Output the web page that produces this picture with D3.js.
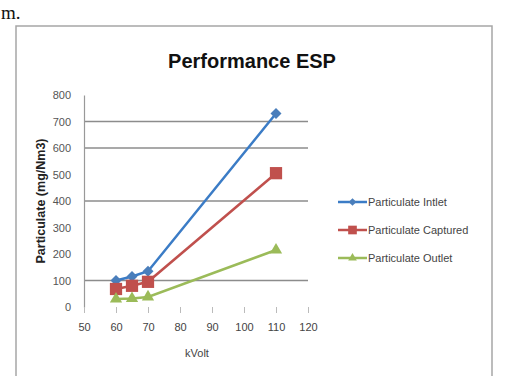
<!DOCTYPE html>
<html lang="en">
<head>
<meta charset="UTF-8">
<title>Performance ESP</title>
<style>
    body { margin: 0; background: #fff; }
    svg { display: block; }
</style>
</head>
<body>
<svg width="506" height="376"></svg>
<script src="https://d3js.org/d3.v7.min.js"></script>
<script>
// data
const kvolt = [60, 65, 70, 110];
const inlet = [100, 115, 135, 730];
const captured = [68, 80, 95, 505];
const outlet = [30, 32, 38, 215];
const seriesNames = ["Particulate Intlet", "Particulate Captured", "Particulate Outlet"];
const xTicks = [50, 60, 70, 80, 90, 100, 110, 120];
const yTicks = [0, 100, 200, 300, 400, 500, 600, 700, 800];
const gridVals = [100, 400, 600, 700]; // only these survive in the scan

const svg = d3.select("svg");
const font = "'Liberation Sans Narrow', 'Liberation Sans', sans-serif";

// stray caption text from the page above
svg.append("text").attr("x", 1).attr("y", 19)
    .attr("font-family", "'Liberation Serif', serif").attr("font-size", 19)
    .attr("fill", "#111").text("m.");

// chart frame
svg.append("rect").attr("x", 16).attr("y", 26).attr("width", 476).attr("height", 370)
    .attr("fill", "none").attr("stroke", "#a6a6a6").attr("stroke-width", 1.5);

const x = d3.scaleLinear().domain([50, 120]).range([84, 308]);
const y = d3.scaleLinear().domain([0, 800]).range([307, 95]);

svg.append("text").attr("x", 252).attr("y", 68).attr("text-anchor", "middle")
    .attr("font-family", font).attr("font-weight", "bold").attr("font-size", 20)
    .attr("fill", "#111").text("Performance ESP");

// gridlines
svg.append("g").selectAll("line").data(gridVals).enter().append("line")
    .attr("x1", x(50)).attr("x2", x(120))
    .attr("y1", d => y(d)).attr("y2", d => y(d))
    .attr("stroke", "#8c8c8c").attr("stroke-width", 1.4);

// y axis
const yAxis = svg.append("g").attr("transform", `translate(${x(50)},0)`)
    .call(d3.axisLeft(y).tickValues(yTicks).tickSize(0).tickPadding(13));
yAxis.select(".domain").attr("stroke", "#999").attr("stroke-width", 1.2);
yAxis.selectAll("text").attr("font-family", font).attr("font-size", 11).attr("fill", "#555");

// x axis
const xAxis = svg.append("g").attr("transform", `translate(0,${y(0)})`)
    .call(d3.axisBottom(x).tickValues(xTicks).tickSize(6).tickPadding(10));
xAxis.select(".domain").remove();
xAxis.selectAll("line").attr("stroke", "#bbb");
xAxis.selectAll("text").attr("font-family", font).attr("font-size", 11).attr("fill", "#444");

svg.append("text").attr("x", 197).attr("y", 357).attr("text-anchor", "middle")
    .attr("font-family", font).attr("font-size", 11).attr("fill", "#444").text("kVolt");

svg.append("text").attr("transform", "translate(45,201) rotate(-90)")
    .attr("text-anchor", "middle").attr("font-family", font).attr("font-weight", "bold")
    .attr("font-size", 12.5).attr("fill", "#222").text("Particulate (mg/Nm3)");

const series = [
    { name: seriesNames[0], vals: inlet, line: "#3b7cc6", fill: "#4a7ebb", sym: d3.symbolSquare, size: 60, rot: 45 },
    { name: seriesNames[1], vals: captured, line: "#c0504d", fill: "#c0504d", sym: d3.symbolSquare, size: 150, rot: 0 },
    { name: seriesNames[2], vals: outlet, line: "#9bbb59", fill: "#9bbb59", sym: d3.symbolTriangle, size: 65, rot: 0 }
];

const line = d3.line().x(d => x(d[0])).y(d => y(d[1]));

series.forEach(s => {
    const pts = kvolt.map((k, i) => [k, s.vals[i]]);
    svg.append("path").datum(pts).attr("d", line)
        .attr("fill", "none").attr("stroke", s.line).attr("stroke-width", 2.5);
    svg.append("g").selectAll("path").data(pts).enter().append("path")
        .attr("d", d3.symbol().type(s.sym).size(s.size))
        .attr("transform", d => `translate(${x(d[0])},${y(d[1])}) rotate(${s.rot})`)
        .attr("fill", s.fill);
});

// legend
const legend = svg.append("g").attr("transform", "translate(338,202)");
series.forEach((s, i) => {
    const g = legend.append("g").attr("transform", `translate(0,${i * 28})`);
    g.append("line").attr("x1", 0).attr("x2", 29).attr("stroke", s.line).attr("stroke-width", 2.5);
    g.append("path").attr("d", d3.symbol().type(s.sym).size(s.size * 0.5))
        .attr("transform", `translate(14.5,0) rotate(${s.rot})`).attr("fill", s.fill);
    g.append("text").attr("x", 30).attr("y", 4)
        .attr("font-family", font).attr("font-size", 11).attr("fill", "#444").text(s.name);
});
</script>
</body>
</html>
